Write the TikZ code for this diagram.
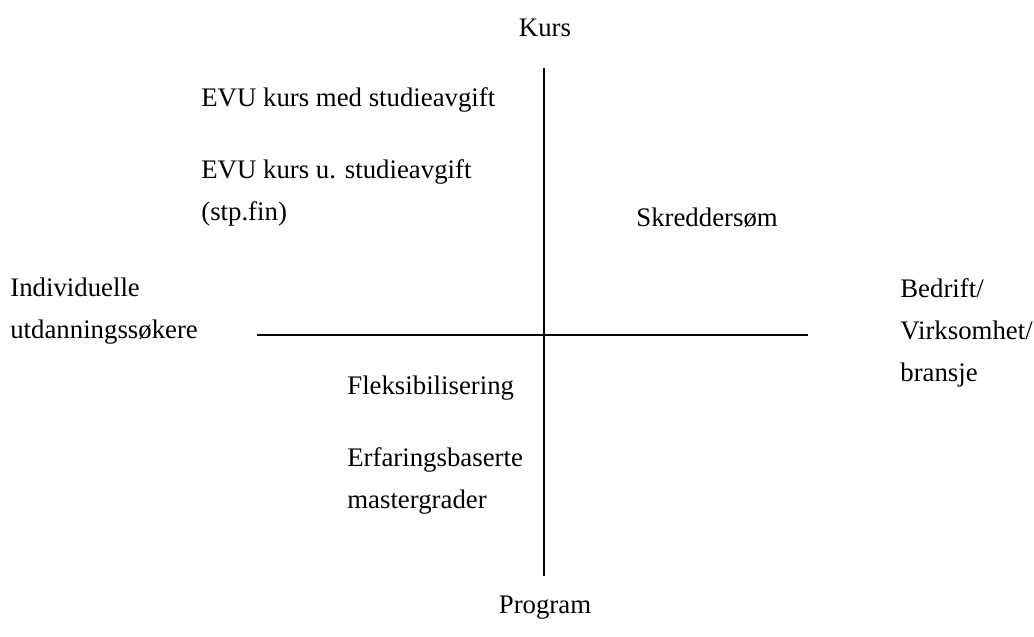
\documentclass[tikz,border=0pt]{standalone}
\usepackage{fontspec}
\setmainfont{Liberation Serif}
\usetikzlibrary{positioning}
\tikzset{
    axis/.style={black,line width=0.8pt},
    label/.style={inner sep=0pt,anchor=base west,align=left,
        font=\fontsize{15.25}{23.9}\selectfont},
    end/.style={label,anchor=base}
}

\begin{document}
\begin{tikzpicture}[x=0.02cm,y=-0.02cm]
\useasboundingbox(0,0)rectangle(1034,636);
\coordinate(top) at (544,68);
\coordinate(bottom) at (544,576);
\coordinate(left) at (257,335);
\coordinate(right) at (808,335);
\draw[axis](top)--(bottom);
\draw[axis](left)--(right);

% anchors of the two- and three-line labels sit on their last line
\node[end](kurs) at (545,36){Kurs};
\node[end](program) at (545,613){Program};
\node[label](individ) at (10,338){Individuelle\\utdanningssøkere};
\node[label](bedrift) at (900,381){Bedrift/\\Virksomhet/\\bransje};

\node[label](evumed) at (201,106){EVU kurs med studieavgift};
\node[label](evuu) at (201,220){EVU kurs u. studieavgift\\(stp.fin)};
\node[label](skredder) at (636,226){Skreddersøm};
\node[label](fleks) at (347,394){Fleksibilisering};
\node[label](erfaring) at (347,508){Erfaringsbaserte\\mastergrader};
\end{tikzpicture}
\end{document}
